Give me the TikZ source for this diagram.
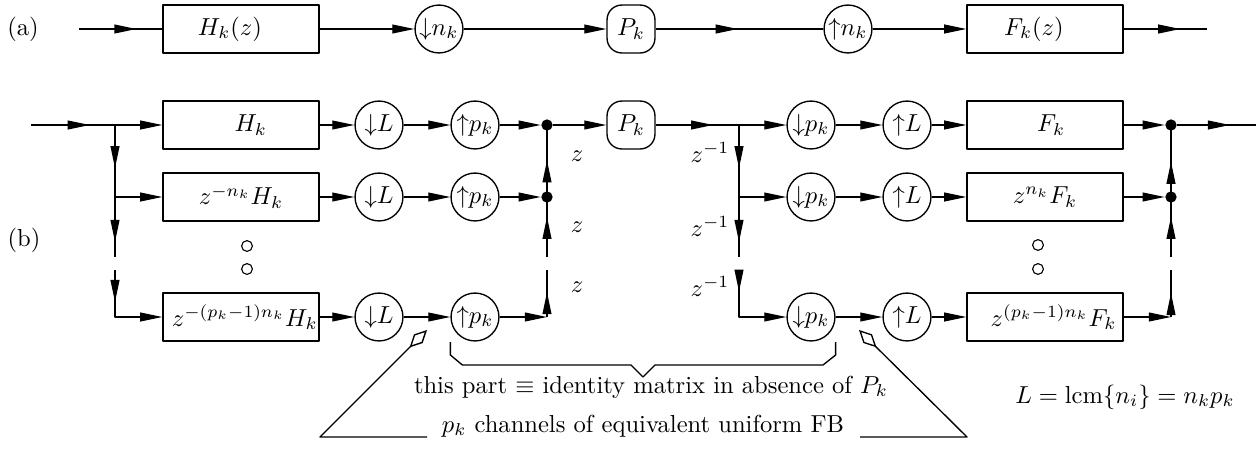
\documentclass[tikz,border=0pt]{standalone}
\usetikzlibrary{arrows.meta,decorations.markings,calc}

\begin{document}
\begin{tikzpicture}[x=0.407pt,y=-0.407pt,line width=0.55pt,line join=round,
  >={Triangle[length=9pt,width=3.6pt]},
  blk/.style={draw,minimum width=63.5pt,minimum height=19.5pt,inner sep=0pt},
  ring/.style={draw,circle,minimum size=19.5pt,inner sep=0pt},
  pbox/.style={draw,rounded corners=6pt,minimum size=19.5pt,inner sep=0pt},
  junc/.style={circle,fill,inner sep=0pt,minimum size=4.6pt},
  hole/.style={circle,draw,inner sep=0pt,minimum size=4.4pt,line width=0.45pt},
  flowat/.style={postaction={decorate},
    decoration={markings,mark=at position #1 with {\arrow{>}}}},
  pointer/.style={{Kite[open,length=10pt,width=5pt,inset=5pt]}-}]
\useasboundingbox (0,0) rectangle (1256,449);

% ---------------- (a) single channel ----------------
\node (la) at (23,29) {(a)};
\coordinate (ain) at (79,29);
\node[blk]  (Ha) at (241,29)  {$H_k(z)$\hspace*{9pt}};
\node[ring] (dn) at (439,29)  {${\downarrow}n_k$};
\node[pbox] (Pa) at (631,29)  {$P_k$};
\node[ring] (un) at (848,29)  {${\uparrow}n_k$};
\node[blk]  (Fa) at (1045,29) {$F_k(z)$\hspace*{9pt}};
\coordinate (aout) at (1207,29);

\draw[flowat=0.69] (ain) -- (Ha);
\draw[->] (Ha) -- (dn);
\draw[->] (dn) -- (Pa);
\draw[flowat=0.49] (Pa) -- (un);
\draw[->] (un) -- (Fa);
\draw[flowat=0.68] (Fa) -- (aout);

% ---------------- (b) polyphase equivalent ----------------
\node (lb) at (24,240) {(b)};

% analysis side
\node[blk] (H1) at (241,125) {\hspace*{8pt}$H_k$};
\node[blk] (H2) at (241,197) {$z^{-n_k}H_k$};
\node[blk] (H3) at (241,317) {\hspace*{3pt}$z^{-(p_k-1)n_k}H_k$};
\foreach \r/\y in {1/125,2/197,3/317}{
  \node[ring] (dL\r) at (379,\y) {${\downarrow}L$};
  \node[ring] (up\r) at (475,\y) {${\uparrow}p_k$};
  \node[ring] (dp\r) at (811,\y) {${\downarrow}p_k$};
  \node[ring] (uL\r) at (907,\y) {${\uparrow}L$};
}
\node[pbox] (P) at (631,125) {$P_k$};

% synthesis side
\node[blk] (F1) at (1045,125) {\hspace*{5pt}$F_k$};
\node[blk] (F2) at (1045,197) {$z^{n_k}F_k$};
\node[blk] (F3) at (1045,317) {\hspace*{7pt}$z^{(p_k-1)n_k}F_k$};

% ellipsis marks between channel 2 and the last channel
\node[hole] (e1) at (247,246) {};
\node[hole] (e2) at (247,269) {};
\node[hole] (e3) at (1038,245) {};
\node[hole] (e4) at (1038,269) {};

% branch points and summing nodes
\coordinate (bin) at (31,125);
\coordinate (s1) at (115,125);
\coordinate (s2) at (115,197);
\coordinate (s3) at (115,317);
\coordinate (s2b) at (115,257);
\coordinate (s3t) at (115,270);

\node[junc] (j1) at (547,125) {};
\node[junc] (j2) at (547,197) {};
\coordinate (j3) at (547,317);
\coordinate (j2b) at (547,257);
\coordinate (j3t) at (547,270);

\coordinate (r1) at (739,125);
\coordinate (r2) at (739,197);
\coordinate (r3) at (739,317);
\coordinate (r2b) at (739,257);
\coordinate (r3t) at (739,270);

\node[junc] (o1) at (1171,125) {};
\node[junc] (o2) at (1171,197) {};
\coordinate (o3) at (1171,317);
\coordinate (o2b) at (1171,257);
\coordinate (o3t) at (1171,270);
\coordinate (bout) at (1256,125);

% input delay chain
\draw[flowat=0.70] (bin) -- (s1);
\draw[->] (s1) -- (H1);
\draw[flowat=0.60] (s1) -- (s2);
\draw[->] (s2) -- (H2);
\draw[flowat=0.75] (s2) -- (s2b);
\draw[->,flowat=0.34] (s3t) -- (s3) -- (H3);

% channel chains
\foreach \r in {1,2,3}{
  \draw[->] (H\r) -- (dL\r);
  \draw[->] (dL\r) -- (up\r);
  \draw[->] (dp\r) -- (uL\r);
  \draw[->] (uL\r) -- (F\r);
}
\draw[->] (up1) -- (j1);
\draw[->] (up2) -- (j2);
\draw[->] (up3) -- (j3);

% advance chain collecting the channels
\draw[flowat=0.53] (j3) -- (j3t);
\draw[flowat=0.67] (j2b) -- (j2.center);
\draw[flowat=0.51] (j2.center) -- (j1.center);

\draw[->] (j1) -- (P);
\draw[flowat=0.69] (P) -- (r1);

% delay chain distributing to the channels
\draw[->] (r1) -- (dp1);
\draw[flowat=0.60] (r1) -- (r2);
\draw[->] (r2) -- (dp2);
\draw[flowat=0.75] (r2) -- (r2b);
\draw[->,flowat=0.23] (r3t) -- (r3) -- (dp3);

% output summation
\draw[->] (F1) -- (o1);
\draw[->] (F2) -- (o2);
\draw[->] (F3) -- (o3);
\draw[flowat=0.51] (o3) -- (o3t);
\draw[flowat=0.67] (o2b) -- (o2.center);
\draw[flowat=0.49] (o2.center) -- (o1.center);
\draw[flowat=0.67] (o1) -- (bout);

% delay labels
\node (z1) at (577,156) {$z$};
\node (z2) at (577,227) {$z$};
\node (z3) at (577,287) {$z$};
\node (zi1) at (710,152) {$z^{-1}$};
\node (zi2) at (710,226) {$z^{-1}$};
\node (zi3) at (710,286) {$z^{-1}$};

% brace under the inner part
\draw (up3.west) ++(0,25) -- ++(0,13) -- ++(12,10) -- (631,365) -- (643,377)
  -- (655,365) -- (823,365) -- ($(dp3.east)+(0,38)$) -- ($(dp3.east)+(0,25)$);

\node[anchor=base] (t1) at (651,393) {this part $\equiv$ identity matrix in absence of $P_k$};
\node[anchor=base] (t2) at (643,432) {$p_k$ channels of equivalent uniform FB};
\node[anchor=base] (t3) at (1125,403) {$L=\mathrm{lcm}\{n_i\}=n_kp_k$};

% pointers marking the equivalent filter bank ports
\coordinate (ml) at ($(dL3.east)!0.5!(up3.west)+(0,13)$);
\coordinate (mr) at ($(dp3.east)!0.5!(uL3.west)+(0,13)$);
\draw[pointer] (ml) -- (320,437) -- (427,437);
\draw[pointer] (mr) -- (967,437) -- (860,437);
\end{tikzpicture}
\end{document}
